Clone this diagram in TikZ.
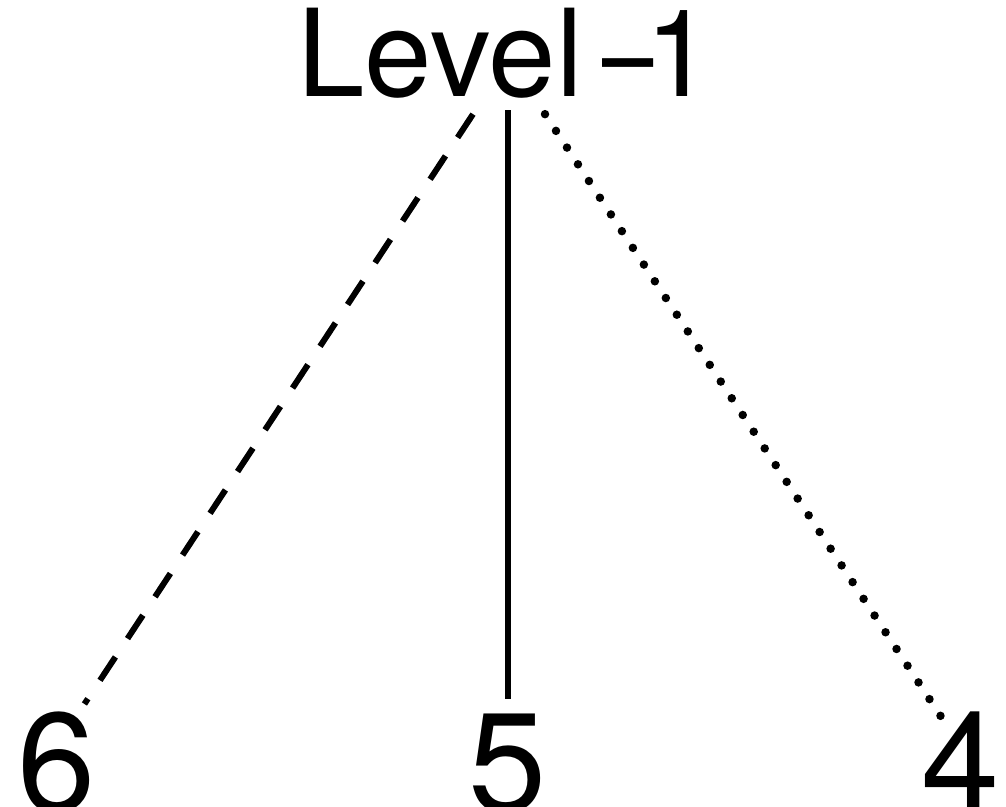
\documentclass[tikz,border=0pt]{standalone}
\usepackage{fontspec}
\setmainfont{TeX Gyre Heros}
\usepackage{tikz}
\usetikzlibrary{positioning,calc}

\begin{document}
\begin{tikzpicture}[
  lbl/.style={inner sep=0pt,anchor=base,font=\fontsize{69}{80}\selectfont},
  num/.style={inner sep=0pt,anchor=base,font=\fontsize{80}{90}\selectfont},
  dashedge/.style={line width=0.12cm,dash pattern=on 0.56cm off 0.44cm},
  solidedge/.style={line width=0.13cm},
  dotedge/.style={line width=0.17cm,line cap=round,dash pattern=on 0pt off 0.4cm}]
\useasboundingbox (0,0) rectangle (20.12,16.14);
\node[lbl] (lvl) at (10.1,14.2) {Level\kern0.16em\scalebox{0.76}[1]{–}\kern-0.07em1};
\node[num] (n6) at (1.14,-0.1) {6};
\node[num] (n5) at (10.16,-0.1) {5};
\node[num] (n4) at (19.22,-0.1) {4};
\draw[dashedge] ($(lvl.south)+(-0.64,-0.3)$) -- ($(n6.north east)+(-0.24,0.16)$);
\draw[solidedge] ($(lvl.south -| n5)+(0,-0.22)$) -- ($(n5.north)+(0,0.3)$);
\draw[dotedge] ($(lvl.south)+(0.8,-0.3)$) -- ($(n4.north west)+(0.38,-0.08)$);
\end{tikzpicture}
\end{document}
